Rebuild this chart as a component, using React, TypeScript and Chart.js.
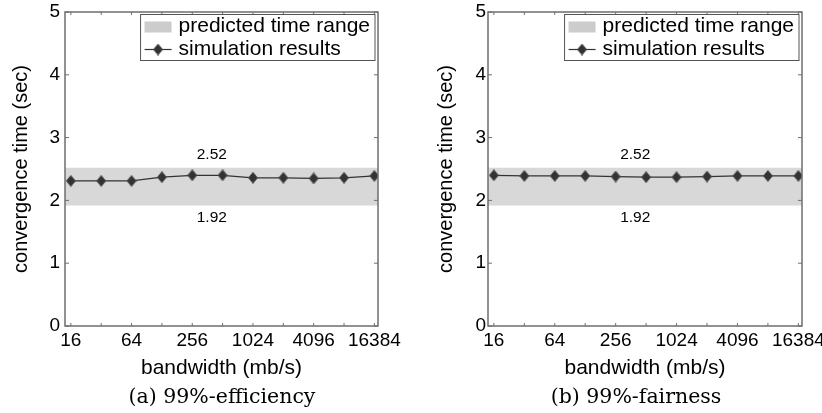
import React, { useEffect, useRef } from 'react';
import { Chart, registerables } from 'chart.js';

Chart.register(...registerables);

// ---------- data ----------
const bandwidth = [16, 32, 64, 128, 256, 512, 1024, 2048, 4096, 8192, 16384];
const efficiencyTimes = [2.31, 2.31, 2.31, 2.37, 2.40, 2.40, 2.36, 2.36, 2.35, 2.36, 2.39];
const fairnessTimes = [2.40, 2.39, 2.39, 2.39, 2.38, 2.37, 2.37, 2.38, 2.39, 2.39, 2.39];
const xTickLabels = ['16', '64', '256', '1024', '4096', '16384'];
const yTicks = [0, 1, 2, 3, 4, 5];
const rangeLow = 1.92;
const rangeHigh = 2.52;
const rangeLabelX = 400;
const xMin = 14;
const xMax = 17800;
const yMin = 0;
const yMax = 5;
const legendLabels = ['predicted time range', 'simulation results'];
const captions = ['(a) 99%-efficiency', '(b) 99%-fairness'];
const xTitle = 'bandwidth (mb/s)';
const yTitle = 'convergence time (sec)';

// ---------- styles ----------
const SANS = '"Liberation Sans", Arial, Helvetica, sans-serif';
const SERIF = '"DejaVu Serif", serif';
const BAND = '#d8d8d8';
const PATCH = '#cccccc';
const AXIS = '#6e6e6e';
const MARK = '#333333';

Chart.defaults.font.family = SANS;
Chart.defaults.color = '#000';

const panels = [
  { series: efficiencyTimes, caption: captions[0], left: 0, yWidth: 65, padRight: 33, yTitlePad: 9, yTickPad: 5, captionX: 222 },
  { series: fairnessTimes, caption: captions[1], left: 411, yWidth: 77, padRight: 20, yTitlePad: 23, yTickPad: 2, captionX: 225 },
];

function makeDiamond(): HTMLCanvasElement {
  const c = document.createElement('canvas');
  c.width = 10;
  c.height = 12;
  const g = c.getContext('2d')!;
  g.beginPath();
  g.moveTo(5, 0.5);
  g.lineTo(9.5, 6);
  g.lineTo(5, 11.5);
  g.lineTo(0.5, 6);
  g.closePath();
  g.fillStyle = MARK;
  g.fill();
  g.strokeStyle = '#555';
  g.lineWidth = 1;
  g.stroke();
  return c;
}

function makeOverlay(p: any, diamond: HTMLCanvasElement) {
  return {
    id: 'overlay',
    afterDraw(chart: any) {
      const ctx = chart.ctx as CanvasRenderingContext2D;
      const a = chart.chartArea;
      const xs = chart.scales.x;
      const ys = chart.scales.y;
      ctx.save();
      // axes box
      ctx.strokeStyle = AXIS;
      ctx.lineWidth = 1.5;
      ctx.strokeRect(a.left, a.top, a.right - a.left, a.bottom - a.top);
      // inward ticks
      ctx.lineWidth = 1;
      ctx.beginPath();
      yTicks.forEach((v) => {
        const y = ys.getPixelForValue(v);
        ctx.moveTo(a.left, y);
        ctx.lineTo(a.left + 4, y);
        ctx.moveTo(a.right, y);
        ctx.lineTo(a.right - 4, y);
      });
      bandwidth.forEach((v) => {
        const x = xs.getPixelForValue(v);
        ctx.moveTo(x, a.bottom);
        ctx.lineTo(x, a.bottom - 3);
        ctx.moveTo(x, a.top);
        ctx.lineTo(x, a.top + 3);
      });
      ctx.stroke();

      // range labels
      ctx.fillStyle = '#000';
      ctx.font = `15.5px ${SANS}`;
      ctx.textAlign = 'center';
      ctx.textBaseline = 'middle';
      const lx = xs.getPixelForValue(rangeLabelX);
      ctx.fillText(String(rangeHigh), lx, ys.getPixelForValue(rangeHigh) - 13);
      ctx.fillText(String(rangeLow), lx, ys.getPixelForValue(rangeLow) + 12);

      // legend
      ctx.font = `21px ${SANS}`;
      const tw = Math.max(...legendLabels.map((t) => ctx.measureText(t).width));
      const bw = 38 + tw + 5;
      const bx = a.right - 3 - bw;
      const by = a.top + 2.5;
      const bh = 46;
      ctx.fillStyle = '#fff';
      ctx.fillRect(bx, by, bw, bh);
      ctx.strokeStyle = '#555';
      ctx.lineWidth = 1;
      ctx.strokeRect(bx, by, bw, bh);
      const r1 = by + 12;
      const r2 = by + 35;
      ctx.fillStyle = PATCH;
      ctx.fillRect(bx + 4, r1 - 5, 27, 11);
      ctx.strokeStyle = MARK;
      ctx.lineWidth = 1.2;
      ctx.beginPath();
      ctx.moveTo(bx + 4, r2);
      ctx.lineTo(bx + 31, r2);
      ctx.stroke();
      ctx.drawImage(diamond, bx + 17.5 - diamond.width / 2, r2 - diamond.height / 2);
      ctx.fillStyle = '#000';
      ctx.textAlign = 'left';
      ctx.textBaseline = 'middle';
      ctx.fillText(legendLabels[0], bx + 38, r1);
      ctx.fillText(legendLabels[1], bx + 38, r2);

      // caption
      ctx.font = `20.5px ${SERIF}`;
      ctx.textAlign = 'center';
      ctx.fillText(p.caption, p.captionX, 398);
      ctx.restore();
    },
  };
}

function Panel({ p }: { p: any }) {
  const ref = useRef<HTMLCanvasElement>(null);
  useEffect(() => {
    const diamond = makeDiamond();
    const chart = new Chart(ref.current!, {
      type: 'line',
      data: {
        datasets: [
          {
            label: legendLabels[1],
            data: bandwidth.map((b, i) => ({ x: b, y: p.series[i] })),
            borderColor: MARK,
            borderWidth: 1.2,
            pointStyle: diamond as any,
            pointRadius: 6,
            fill: false,
            order: 1,
          },
          {
            label: legendLabels[0],
            data: [
              { x: xMin, y: rangeHigh },
              { x: xMax, y: rangeHigh },
            ],
            borderWidth: 0,
            borderColor: 'rgba(0,0,0,0)',
            backgroundColor: BAND,
            pointRadius: 0,
            fill: { value: rangeLow },
            order: 2,
          },
        ],
      },
      options: {
        responsive: false,
        animation: false,
        layout: { padding: { left: 0, right: p.padRight, top: 12, bottom: 27 } },
        plugins: { legend: { display: false }, tooltip: { enabled: false }, title: { display: false } },
        scales: {
          x: {
            type: 'logarithmic',
            min: xMin,
            max: xMax,
            bounds: 'data',
            grid: { display: false, drawTicks: false },
            border: { display: false },
            afterBuildTicks: (s: any) => {
              s.ticks = bandwidth.map((v) => ({ value: v }));
            },
            ticks: {
              autoSkip: false,
              maxRotation: 0,
              minRotation: 0,
              padding: 3,
              font: { size: 19 },
              callback: (v: any) => (xTickLabels.includes(String(v)) ? String(v) : ''),
            },
            title: { display: true, text: xTitle, font: { size: 21 }, padding: { top: 0, bottom: 5 } },
            afterFit: (s: any) => {
              s.height = 60;
              s.paddingLeft = 0;
              s.paddingRight = 0;
            },
          },
          y: {
            type: 'linear',
            min: yMin,
            max: yMax,
            grid: { display: false, drawTicks: false },
            border: { display: false },
            afterBuildTicks: (s: any) => {
              s.ticks = yTicks.map((v) => ({ value: v }));
            },
            ticks: { padding: p.yTickPad, font: { size: 19 }, callback: (v: any) => String(v) },
            title: { display: true, text: yTitle, font: { size: 20 }, padding: { top: p.yTitlePad, bottom: 0 } },
            afterFit: (s: any) => {
              s.width = p.yWidth;
              s.paddingTop = 0;
              s.paddingBottom = 0;
            },
          },
        },
      } as any,
      plugins: [makeOverlay(p, diamond)],
    });
    return () => chart.destroy();
  }, [p]);
  return (
    <div style={{ position: 'absolute', left: p.left, top: 0, width: 411, height: 413 }}>
      <canvas ref={ref} width={411} height={413} style={{ display: 'block' }} />
    </div>
  );
}

export default function App() {
  return (
    <div style={{ position: 'fixed', left: 0, top: 0, width: 822, height: 413, background: '#fff' }}>
      {panels.map((p, i) => (
        <Panel key={i} p={p} />
      ))}
    </div>
  );
}
